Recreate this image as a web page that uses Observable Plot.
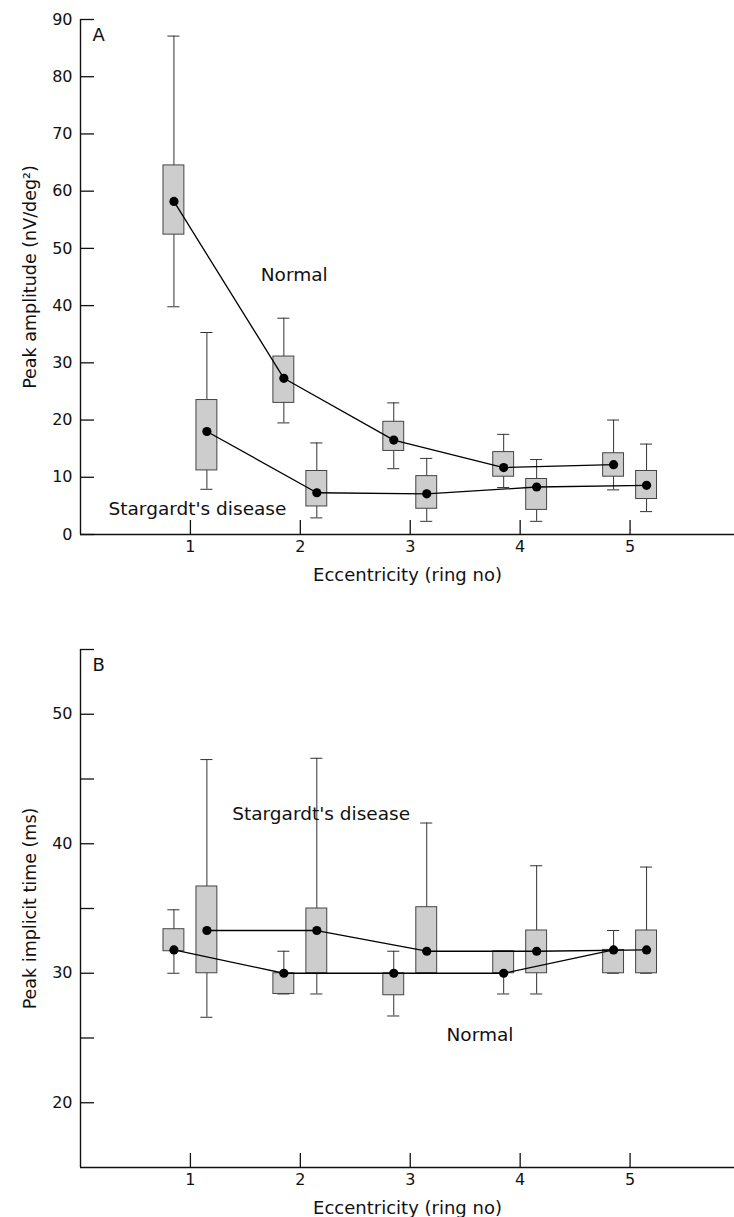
<!DOCTYPE html>
<html>
<head>
<meta charset="utf-8">
<script src="https://cdn.jsdelivr.net/npm/d3@7"></script>
<script src="https://cdn.jsdelivr.net/npm/@observablehq/plot@0.6"></script>
<style>
  html, body { margin: 0; padding: 0; background: #fff; }
  #chart svg { display: block; }
</style>
</head>
<body>
<div id="chart"></div>
<script>
// ---------- data ----------
const rings = [1, 2, 3, 4, 5];
const groups = ["Normal", "Stargardt's disease"];

// Panel A: peak amplitude (nV/deg^2)
const ampNormalMin = [39.8, 19.5, 11.5, 8.2, 7.8];
const ampNormalQ1  = [52.4, 23.0, 14.6, 10.1, 10.1];
const ampNormalMed = [58.2, 27.3, 16.5, 11.7, 12.2];
const ampNormalQ3  = [64.5, 31.1, 19.7, 14.4, 14.2];
const ampNormalMax = [87.1, 37.8, 23.0, 17.5, 20.0];

const ampStarMin = [7.9, 2.9, 2.3, 2.3, 4.0];
const ampStarQ1  = [11.2, 4.9, 4.5, 4.3, 6.2];
const ampStarMed = [18.0, 7.3, 7.1, 8.3, 8.6];
const ampStarQ3  = [23.5, 11.1, 10.2, 9.7, 11.1];
const ampStarMax = [35.3, 16.0, 13.3, 13.1, 15.8];

// Panel B: peak implicit time (ms)
const timeNormalMin = [30.0, 28.4, 26.7, 28.4, 30.0];
const timeNormalQ1  = [31.7, 28.4, 28.3, 30.0, 30.0];
const timeNormalMed = [31.8, 30.0, 30.0, 30.0, 31.8];
const timeNormalQ3  = [33.4, 30.0, 30.0, 31.7, 31.8];
const timeNormalMax = [34.9, 31.7, 31.7, 31.7, 33.3];

const timeStarMin = [26.6, 28.4, 30.0, 28.4, 30.0];
const timeStarQ1  = [30.0, 30.0, 30.0, 30.0, 30.0];
const timeStarMed = [33.3, 33.3, 31.7, 31.7, 31.8];
const timeStarQ3  = [36.7, 35.0, 35.1, 33.3, 33.3];
const timeStarMax = [46.5, 46.6, 41.6, 38.3, 38.2];

// tick labels
const xTicks = [1, 2, 3, 4, 5];
const ampTicks = [0, 10, 20, 30, 40, 50, 60, 70, 80, 90];
const timeTickMarks = [20, 25, 30, 35, 40, 45, 50, 55];
const timeTickLabels = [20, 30, 40, 50];

// annotations
const annotA = [
  {text: "Normal", ring: 1.64, value: 45.3},
  {text: "Stargardt's disease", ring: 0.255, value: 4.5}
];
const annotB = [
  {text: "Stargardt's disease", ring: 1.38, value: 42.3},
  {text: "Normal", ring: 3.33, value: 25.2}
];

// ---------- layout constants ----------
const groupOffset = {"Normal": -0.15, "Stargardt's disease": 0.15};
const boxHalf = 0.095;
const capHalf = 0.055;
const TICK = 14;
const WIDTH = 734, ML = 80, MR = 0;
const FONT = "DejaVu Sans, sans-serif";

function buildRows(minA, q1A, medA, q3A, maxA, group) {
  return rings.map((r, i) => ({
    ring: r, group, xpos: r + groupOffset[group],
    min: minA[i], q1: q1A[i], med: medA[i], q3: q3A[i], max: maxA[i]
  }));
}

const ampRows = [
  ...buildRows(ampNormalMin, ampNormalQ1, ampNormalMed, ampNormalQ3, ampNormalMax, groups[0]),
  ...buildRows(ampStarMin, ampStarQ1, ampStarMed, ampStarQ3, ampStarMax, groups[1])
];
const timeRows = [
  ...buildRows(timeNormalMin, timeNormalQ1, timeNormalMed, timeNormalQ3, timeNormalMax, groups[0]),
  ...buildRows(timeStarMin, timeStarQ1, timeStarMed, timeStarQ3, timeStarMax, groups[1])
];

function panel({rows, yDomain, tickMarks, tickLabels, height, marginTop, marginBottom, letter, yTitle, annots}) {
  const frameW = WIDTH - ML - MR;
  const frameH = height - marginTop - marginBottom;
  return Plot.plot({
    width: WIDTH,
    height,
    marginLeft: ML,
    marginRight: MR,
    marginTop,
    marginBottom,
    style: {fontFamily: FONT, fontSize: "16px", color: "#111", background: "#fff"},
    x: {domain: [0, 5.95]},
    y: {domain: yDomain},
    marks: [
      // axis lines
      Plot.ruleX([0], {stroke: "#111", strokeWidth: 1.4}),
      Plot.ruleY([yDomain[0]], {stroke: "#111", strokeWidth: 1.4}),
      // inward ticks
      Plot.tickY(tickMarks, {y: d => d, insetRight: frameW - TICK, stroke: "#111", strokeWidth: 1.3}),
      Plot.tickX(xTicks, {x: d => d, insetTop: frameH - TICK, stroke: "#111", strokeWidth: 1.3}),
      // tick labels
      Plot.axisY({ticks: tickLabels, tickSize: 0, tickPadding: 8, tickFormat: d => String(d), label: null, fontSize: 16, fill: "#111"}),
      Plot.axisX({ticks: xTicks, tickSize: 0, tickPadding: 6, tickFormat: d => String(d), label: null, fontSize: 16, fill: "#111"}),
      // whiskers
      Plot.ruleX(rows, {x: "xpos", y1: "min", y2: "max", stroke: "#333", strokeWidth: 1}),
      Plot.ruleY(rows, {y: "max", x1: d => d.xpos - capHalf, x2: d => d.xpos + capHalf, stroke: "#333", strokeWidth: 1}),
      Plot.ruleY(rows, {y: "min", x1: d => d.xpos - capHalf, x2: d => d.xpos + capHalf, stroke: "#333", strokeWidth: 1}),
      // boxes
      Plot.rect(rows, {x1: d => d.xpos - boxHalf, x2: d => d.xpos + boxHalf, y1: "q1", y2: "q3", fill: "#cdcdcd", stroke: "#444", strokeWidth: 1}),
      // median lines
      Plot.line(rows, {x: "xpos", y: "med", z: "group", stroke: "#000", strokeWidth: 1.3}),
      Plot.dot(rows, {x: "xpos", y: "med", r: 4.6, fill: "#000", stroke: "none"}),
      // annotations
      Plot.text(annots, {x: "ring", y: "value", text: "text", textAnchor: "start", lineAnchor: "middle", fontSize: 18.5, fill: "#111"}),
      Plot.text([letter], {frameAnchor: "top-left", dx: 12, dy: 9, lineAnchor: "top", textAnchor: "start", fontSize: 18, fill: "#111"}),
      Plot.text([yTitle], {frameAnchor: "left", dx: -45, rotate: -90, textAnchor: "middle", lineAnchor: "bottom", fontSize: 17.5, fill: "#111"}),
      Plot.text(["Eccentricity (ring no)"], {frameAnchor: "bottom", dy: 41, textAnchor: "middle", lineAnchor: "middle", fontSize: 18, fill: "#111"})
    ]
  });
}

const chart = document.getElementById("chart");
chart.appendChild(panel({
  rows: ampRows, yDomain: [0, 90], tickMarks: ampTicks, tickLabels: ampTicks,
  height: 600, marginTop: 19, marginBottom: 66, letter: "A",
  yTitle: "Peak amplitude (nV/deg²)", annots: annotA
}));
chart.appendChild(panel({
  rows: timeRows, yDomain: [15, 55], tickMarks: timeTickMarks, tickLabels: timeTickLabels,
  height: 617, marginTop: 49, marginBottom: 50, letter: "B",
  yTitle: "Peak implicit time (ms)", annots: annotB
}));
</script>
</body>
</html>
